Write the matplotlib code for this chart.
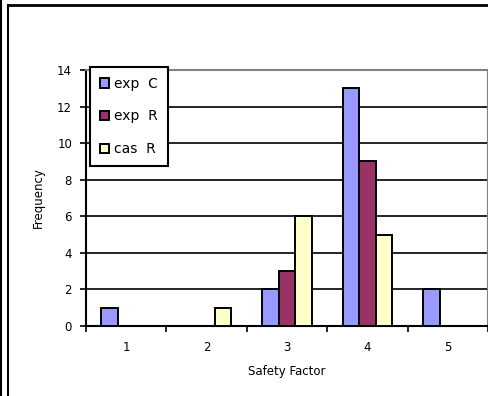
import numpy as np
import matplotlib
matplotlib.use('Agg')
import matplotlib.pyplot as plt
from matplotlib.lines import Line2D

categories = ['1', '2', '3', '4', '5']
exp_c = [1, 0, 2, 13, 2]
exp_r = [0, 0, 3, 9, 0]
cas_r = [0, 1, 6, 5, 0]

W, H = 489, 396
fig = plt.figure(figsize=(W / 100, H / 100), dpi=100)
fig.patch.set_facecolor('white')

# plot area in pixels: x 86..488, y 70..326
ax = fig.add_axes([86 / W, 1 - 326 / H, 402 / W, 256 / H])

x = np.arange(len(categories))
bw = 0.205
ax.bar(x - bw, exp_c, bw, color='#9999FF', edgecolor='black', linewidth=1.4, label='exp C', zorder=3)
ax.bar(x, exp_r, bw, color='#993366', edgecolor='black', linewidth=1.4, label='exp R', zorder=3)
ax.bar(x + bw, cas_r, bw, color='#FFFFCC', edgecolor='black', linewidth=1.4, label='cas R', zorder=3)

ax.set_xlim(-0.5, len(categories) - 0.5)
ax.set_ylim(0, 14)
ax.set_yticks(range(0, 15, 2))
ax.set_xticks(x)
ax.set_xticklabels(categories)
ax.set_xticks(np.arange(-0.5, len(categories), 1.0), minor=True)
ax.tick_params(axis='x', which='major', length=0, pad=11, labelsize=8.5)
ax.tick_params(axis='x', which='minor', length=4, width=1.2, direction='out')
ax.tick_params(axis='y', length=4, width=1.2, pad=6, labelsize=8.5)

for yv in range(2, 14, 2):
    ax.axhline(yv, color='black', linewidth=1.2, zorder=1)

ax.spines['left'].set_linewidth(1.5)
ax.spines['bottom'].set_linewidth(1.5)
ax.spines['top'].set_color('#808080')
ax.spines['right'].set_color('#808080')
ax.spines['top'].set_linewidth(1.5)
ax.spines['right'].set_linewidth(1.5)

ax.set_xlabel('Safety Factor', fontsize=8.5, labelpad=8)
ax.set_ylabel('Frequency', fontsize=8.5, labelpad=9)

leg = ax.legend(loc='upper left', bbox_to_anchor=(90 / W, 1 - 67 / H),
                bbox_transform=fig.transFigure, borderaxespad=0,
                fancybox=False, framealpha=1, edgecolor='black',
                fontsize=10, labelspacing=1.35, handlelength=0.7,
                handleheight=0.7, handletextpad=0.35, borderpad=0.7)
leg.get_frame().set_linewidth(1.5)
leg.set_zorder(5)
for t in leg.get_texts():
    t.set_text(t.get_text().replace(' ', '  '))

# outer frame of the original sheet
fig.add_artist(Line2D([1 / W, 1 / W], [0, 1], color='black', linewidth=1.5))
fig.add_artist(Line2D([8 / W, 8 / W], [0, 1 - 5 / H], color='black', linewidth=1.5))
fig.add_artist(Line2D([8 / W, 1], [1 - 5 / H, 1 - 5 / H], color='black', linewidth=2))

fig.savefig('out.png', dpi=100)
